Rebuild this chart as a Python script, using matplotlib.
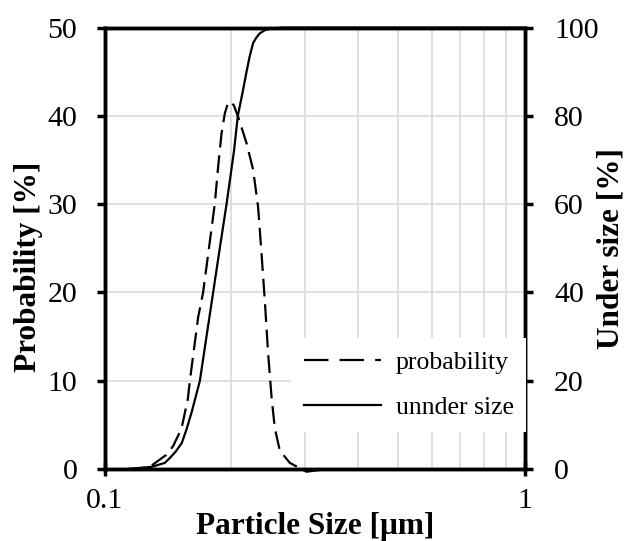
import matplotlib
matplotlib.use("Agg")
import matplotlib.pyplot as plt
from matplotlib.lines import Line2D
from matplotlib.ticker import FixedLocator, NullLocator, FixedFormatter

plt.rcParams['font.family'] = ['Liberation Serif', 'DejaVu Serif']

# Probability (left axis, %)
prob_x = [0.1128, 0.1215, 0.1292, 0.1400, 0.1454, 0.1523, 0.1577, 0.1594, 0.1668,
          0.1714, 0.1746, 0.1827, 0.1861, 0.1896, 0.1931, 0.1966, 0.1995, 0.2028,
          0.2077, 0.2175, 0.2255, 0.2317, 0.2361, 0.2404, 0.2448, 0.2494, 0.2540,
          0.2610, 0.2757, 0.3021, 0.3251]
prob_y = [0.0, 0.05, 0.4, 1.6, 2.6, 4.6, 8.0, 10.0, 17.2,
          20.0, 22.9, 30.0, 34.2, 38.0, 40.3, 41.5, 41.6, 41.2,
          39.9, 36.9, 33.9, 29.7, 24.4, 19.1, 13.1, 8.2, 4.6,
          2.1, 0.7, -0.3, -0.1]

# Under size (right axis, %)
under_x = [0.1128, 0.1292, 0.1390, 0.1428, 0.1476, 0.1525, 0.1565, 0.1611, 0.1684,
           0.1746, 0.1811, 0.1878, 0.1949, 0.2032, 0.2073, 0.2125, 0.2175, 0.2213,
           0.2255, 0.2297, 0.2339, 0.2404, 0.2494, 0.2653, 1.0]
under_y = [0.0, 0.5, 1.4, 2.5, 4.0, 5.9, 9.0, 13.0, 20.0,
           30.0, 40.0, 50.0, 60.0, 72.3, 80.0, 85.0, 90.0, 93.5,
           96.5, 97.8, 98.7, 99.4, 99.8, 100.0, 100.0]

x_ticks = [0.1, 1]
x_ticklabels = ['0.1', '1']
x_grid = [0.2, 0.3, 0.4, 0.5, 0.6, 0.7, 0.8, 0.9]
left_ticks = [0, 10, 20, 30, 40, 50]
right_ticks = [0, 20, 40, 60, 80, 100]

fig = plt.figure(figsize=(6.24, 5.41), dpi=100)
ax = fig.add_axes([0.168, 0.133, 0.673, 0.816])
ax2 = ax.twinx()

ax.set_xscale('log')
ax.set_xlim(0.1, 1)
ax.set_ylim(0, 50)
ax2.set_ylim(0, 100)

# grid
for gx in x_grid:
    ax.axvline(gx, color='#d9d9d9', lw=1.2, zorder=0)
for gy in left_ticks[1:-1]:
    ax.axhline(gy, color='#d9d9d9', lw=1.2, zorder=0)

ax.plot(prob_x, prob_y, color='black', lw=1.6, dashes=(8, 3.5),
        clip_on=False, zorder=3)
ax2.plot(under_x, under_y, color='black', lw=1.6, clip_on=False, zorder=3)

ax.xaxis.set_major_locator(FixedLocator(x_ticks))
ax.xaxis.set_major_formatter(FixedFormatter(x_ticklabels))
ax.xaxis.set_minor_locator(NullLocator())
ax.set_yticks(left_ticks)
ax2.set_yticks(right_ticks)

for a in (ax, ax2):
    for s in a.spines.values():
        s.set_linewidth(2.5)
        s.set_color('black')

ax.tick_params(axis='x', which='major', direction='inout', length=10, width=2.5,
               labelsize=21.5, pad=9)
ax.tick_params(axis='y', direction='out', length=6, width=2.5, labelsize=21.5, pad=13.8)
ax2.tick_params(axis='y', direction='out', length=6, width=2.5, labelsize=21.5, pad=15.2)

ax.set_xlabel('Particle Size [μm]', fontsize=22.5, fontweight='bold', labelpad=-2)
ax.set_ylabel('Probability [%]', fontsize=22.5, fontweight='bold', labelpad=3, y=0.458)
ax2.set_ylabel('Under size [%]', fontsize=22.5, fontweight='bold', labelpad=-2)

h1 = Line2D([], [], color='black', lw=1.6, dashes=(11, 5))
h2 = Line2D([], [], color='black', lw=1.6)
leg = ax2.legend(handles=[h1, h2], labels=['probability', 'unnder size'],
                 loc='lower right', bbox_to_anchor=(1.004, 0.084), borderaxespad=0,
                 frameon=True, fancybox=False, fontsize=18.5, handlelength=3.0,
                 handletextpad=0.56, borderpad=0.5, labelspacing=0.88)
fr = leg.get_frame()
fr.set_edgecolor('white')
fr.set_facecolor('white')
fr.set_alpha(1.0)
fr.set_linewidth(0)

fig.savefig('out.png', dpi=100)
